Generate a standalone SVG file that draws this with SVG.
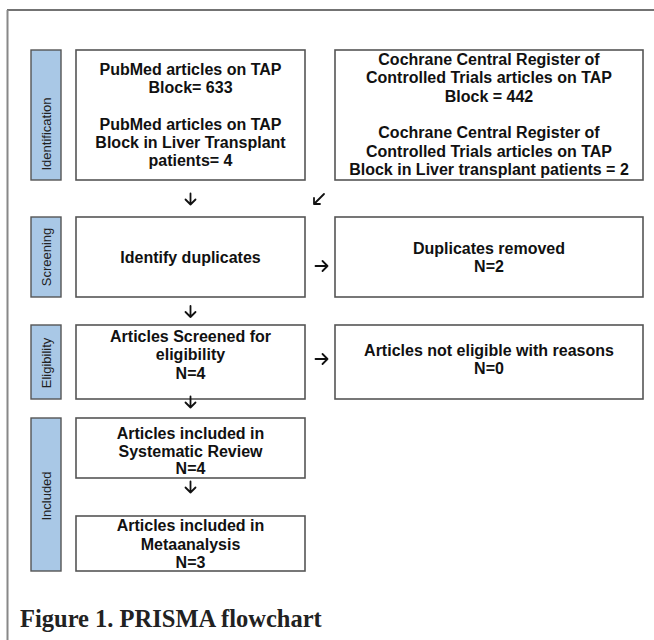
<svg xmlns="http://www.w3.org/2000/svg" width="654" height="640" viewBox="0 0 654 640">
<style>
.box{fill:#fff;stroke:#555;stroke-width:1.6}
.lab{fill:#a9c8e6;stroke:#555;stroke-width:1.4}
.t{font-family:"Liberation Sans",Arial,sans-serif;font-weight:bold;font-size:16px;fill:#111;text-anchor:middle}
.lt{font-family:"Liberation Sans",Arial,sans-serif;font-size:13px;fill:#222;text-anchor:middle;dominant-baseline:central}
.ar{fill:none;stroke:#111;stroke-width:1.8;stroke-linecap:round;stroke-linejoin:round}
.cap{font-family:"Liberation Serif","Times New Roman",serif;font-weight:bold;font-size:24.5px;fill:#222}
</style>
<rect x="0" y="0" width="654" height="640" fill="#fff"/>
<line x1="7" y1="10" x2="654" y2="10" stroke="#444" stroke-width="1.5"/>
<line x1="7.5" y1="10" x2="7.5" y2="640" stroke="#888" stroke-width="2"/>

<g id="label-identification">
<rect class="lab" x="31" y="50" width="30" height="130"/>
<text class="lt" transform="translate(46,134) rotate(-90)">Identification</text>
</g>
<g id="label-screening">
<rect class="lab" x="31" y="217" width="30" height="80"/>
<text class="lt" transform="translate(46,257) rotate(-90)">Screening</text>
</g>
<g id="label-eligibility">
<rect class="lab" x="31" y="325" width="30" height="74"/>
<text class="lt" transform="translate(46,363) rotate(-90)">Eligibility</text>
</g>
<g id="label-included">
<rect class="lab" x="31" y="418" width="30" height="153"/>
<text class="lt" transform="translate(46,496) rotate(-90)">Included</text>
</g>

<g id="pubmed">
<rect class="box" x="76" y="50" width="229" height="130"/>
<text class="t" x="190.5" y="75">PubMed articles on TAP</text>
<text class="t" x="190.5" y="93">Block= 633</text>
<text class="t" x="190.5" y="130">PubMed articles on TAP</text>
<text class="t" x="190.5" y="148">Block in Liver Transplant</text>
<text class="t" x="190.5" y="166">patients= 4</text>
</g>
<g id="cochrane">
<rect class="box" x="335" y="50" width="308" height="130"/>
<text class="t" x="489" y="65">Cochrane Central Register of</text>
<text class="t" x="489" y="83">Controlled Trials articles on TAP</text>
<text class="t" x="489" y="101.5">Block = 442</text>
<text class="t" x="489" y="138">Cochrane Central Register of</text>
<text class="t" x="489" y="156.5">Controlled Trials articles on TAP</text>
<text class="t" x="489" y="175">Block in Liver transplant patients = 2</text>
</g>
<g id="identify">
<rect class="box" x="76" y="217" width="229" height="80"/>
<text class="t" x="190.5" y="262.5">Identify duplicates</text>
</g>
<g id="duplicates">
<rect class="box" x="335" y="217" width="308" height="80"/>
<text class="t" x="489" y="253.5">Duplicates removed</text>
<text class="t" x="489" y="271.5">N=2</text>
</g>
<g id="screened">
<rect class="box" x="76" y="325" width="229" height="74"/>
<text class="t" x="190.5" y="341.5">Articles Screened for</text>
<text class="t" x="190.5" y="360">eligibility</text>
<text class="t" x="190.5" y="379">N=4</text>
</g>
<g id="noteligible">
<rect class="box" x="335" y="325" width="308" height="74"/>
<text class="t" x="489" y="355.5">Articles not eligible with reasons</text>
<text class="t" x="489" y="374">N=0</text>
</g>
<g id="systematic">
<rect class="box" x="76" y="418" width="229" height="60"/>
<text class="t" x="190.5" y="438.5">Articles included in</text>
<text class="t" x="190.5" y="456.5">Systematic Review</text>
<text class="t" x="190.5" y="474">N=4</text>
</g>
<g id="meta">
<rect class="box" x="76" y="516" width="229" height="55"/>
<text class="t" x="190.5" y="531">Articles included in</text>
<text class="t" x="190.5" y="549.5">Metaanalysis</text>
<text class="t" x="190.5" y="567.5">N=3</text>
</g>

<g id="connectors">
<path class="ar" d="M190.5 193.5V204.5M185.5 199.5L190.5 204.5L195.5 199.5"/>
<path class="ar" d="M324 194L314 204M314 198V204H320"/>
<path class="ar" d="M315.5 266H327.5M322.5 261L327.5 266L322.5 271"/>
<path class="ar" d="M190.5 306V317M185.5 312L190.5 317L195.5 312"/>
<path class="ar" d="M315.5 359H327.5M322.5 354L327.5 359L322.5 364"/>
<path class="ar" d="M190.5 396.5V407.5M185.5 402.5L190.5 407.5L195.5 402.5"/>
<path class="ar" d="M190.5 481.5V492.5M185.5 487.5L190.5 492.5L195.5 487.5"/>
</g>

<text class="cap" x="20" y="627">Figure 1. PRISMA flowchart</text>
</svg>
